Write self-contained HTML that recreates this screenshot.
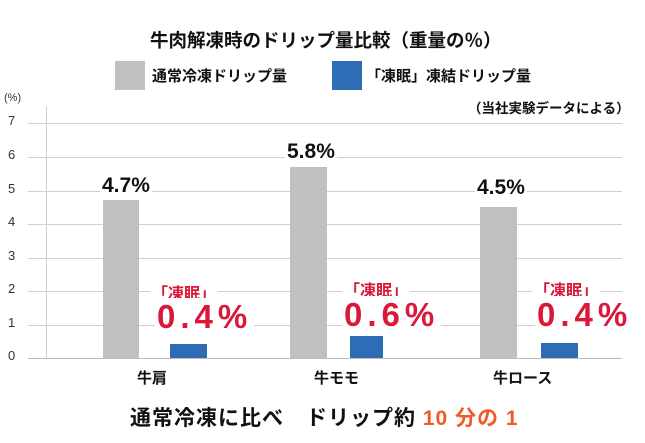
<!DOCTYPE html>
<html><head><meta charset="utf-8"><style>
body{margin:0;width:645px;height:443px;background:#fff;position:relative;overflow:hidden;font-family:"Liberation Sans","Noto Sans CJK JP",sans-serif}
.a{position:absolute;white-space:nowrap}
.g{position:absolute;left:28px;width:594px;height:1px;background:#cfcfcf}
.t{position:absolute;left:8px;font-size:13px;color:#333;width:12px}
.bar{position:absolute}
.gr{background:#c0c0c0}.bl{background:#2e6db5}
.v{font-size:21px;font-weight:bold;color:#111;background:#fff;padding:0 2px}
.rl{font-size:16px;font-weight:bold;color:#d9183a;background:#fff;padding:0 2px}
.rv{font-size:33px;font-weight:bold;color:#d9183a;background:#fff;letter-spacing:5px;padding:0 2px}
.c{font-size:15px;font-weight:bold;color:#111}
</style></head><body>
<div class="a" style="left:150px;top:27px;font-size:18.5px;font-weight:bold;color:#111">牛肉解凍時のドリップ量比較（重量の％）</div>
<div class="a" style="left:115px;top:61px;width:30px;height:29px;background:#c0c0c0"></div>
<div class="a" style="left:152px;top:65px;font-size:15px;font-weight:bold;color:#111">通常冷凍ドリップ量</div>
<div class="a" style="left:332px;top:61px;width:30px;height:29px;background:#2e6db5"></div>
<div class="a" style="left:366px;top:65px;font-size:15px;font-weight:bold;color:#111">「凍眠」凍結ドリップ量</div>
<div class="a" style="left:468px;top:97px;font-size:13.5px;font-weight:bold;color:#111">（当社実験データによる）</div>
<div class="a" style="left:4px;top:92px;font-size:11px;color:#333">(%)</div>
<div class="a" style="left:46px;top:106px;width:1px;height:252px;background:#cfcfcf"></div>
<div class="g" style="top:123px"></div><div class="g" style="top:157px"></div><div class="g" style="top:191px"></div><div class="g" style="top:224px"></div><div class="g" style="top:258px"></div><div class="g" style="top:291px"></div><div class="g" style="top:325px"></div><div class="g" style="top:358px;background:#bbb"></div>
<div class="t" style="top:113px">7</div><div class="t" style="top:147px">6</div><div class="t" style="top:181px">5</div><div class="t" style="top:214px">4</div><div class="t" style="top:248px">3</div><div class="t" style="top:281px">2</div><div class="t" style="top:315px">1</div><div class="t" style="top:348px">0</div>
<div class="bar gr" style="left:103px;top:200px;width:36px;height:158px"></div>
<div class="bar bl" style="left:170px;top:344px;width:37px;height:14px"></div>
<div class="bar gr" style="left:290px;top:167px;width:37px;height:191px"></div>
<div class="bar bl" style="left:350px;top:336px;width:33px;height:22px"></div>
<div class="bar gr" style="left:480px;top:207px;width:37px;height:151px"></div>
<div class="bar bl" style="left:541px;top:343px;width:37px;height:15px"></div>
<div class="a v" style="left:100px;top:174px">4.7%</div>
<div class="a v" style="left:285px;top:140px">5.8%</div>
<div class="a v" style="left:475px;top:176px">4.5%</div>
<div class="a rl" style="left:150px;top:280px">「凍眠」</div>
<div class="a rl" style="left:342px;top:277px">「凍眠」</div>
<div class="a rl" style="left:532px;top:277px">「凍眠」</div>
<div class="a rv" style="left:155px;top:298px">0.4%</div>
<div class="a rv" style="left:342px;top:296px">0.6%</div>
<div class="a rv" style="left:535px;top:296px">0.4%</div>
<div class="a c" style="left:137px;top:367px">牛肩</div>
<div class="a c" style="left:314px;top:367px">牛モモ</div>
<div class="a c" style="left:493px;top:367px">牛ロース</div>
<div class="a" style="left:130px;top:402px;font-size:21px;font-weight:bold;color:#111;letter-spacing:1px">通常冷凍に比べ　ドリップ約 <span style="color:#f05a28">10 分の 1</span></div>
</body></html>
